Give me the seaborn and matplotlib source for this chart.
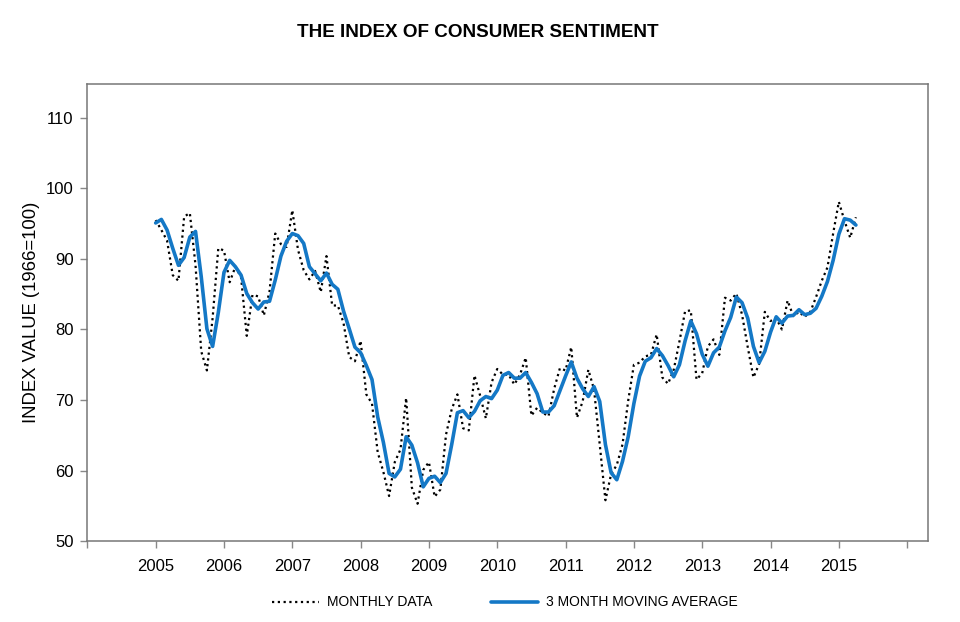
import pandas as pd
import matplotlib.pyplot as plt
import seaborn as sns

# Monthly index values, Jan 2005 - Apr 2015
years = list(range(2005, 2016))
monthly = [
    95.5, 94.1, 92.6, 87.7, 86.9, 96.0, 96.5, 89.1, 76.9, 74.2, 81.6, 91.5,  # 2005
    91.2, 86.7, 88.9, 87.4, 79.1, 84.9, 84.7, 82.0, 85.4, 93.6, 92.1, 91.7,  # 2006
    96.9, 91.3, 88.4, 87.1, 88.3, 85.3, 90.4, 83.4, 83.4, 80.9, 76.1, 75.5,  # 2007
    78.4, 70.8, 69.5, 62.6, 59.8, 56.4, 61.2, 63.0, 70.3, 57.6, 55.3, 60.1,  # 2008
    61.2, 56.3, 57.3, 65.1, 68.7, 70.8, 66.0, 65.7, 73.5, 70.6, 67.4, 72.5,  # 2009
    74.4, 73.6, 73.6, 72.2, 73.6, 76.0, 67.8, 68.9, 68.2, 67.7, 71.6, 74.5,  # 2010
    74.2, 77.5, 67.5, 69.8, 74.3, 71.5, 63.7, 55.8, 59.5, 60.8, 63.7, 69.9,  # 2011
    75.0, 75.3, 76.2, 76.4, 79.3, 73.2, 72.3, 74.3, 78.3, 82.6, 82.7, 72.9,  # 2012
    73.8, 77.6, 78.6, 76.4, 84.5, 84.1, 85.1, 82.1, 77.5, 73.2, 75.1, 82.5,  # 2013
    81.2, 81.6, 80.0, 84.1, 81.9, 82.5, 81.8, 82.5, 84.6, 86.9, 88.8, 93.6,  # 2014
    98.1, 95.4, 93.0, 95.9,                                                  # 2015
]

# 3 month moving average, same months
moving_avg = [
    95.1, 95.6, 94.1, 91.5, 89.1, 90.2, 93.1, 93.9, 87.5, 80.1, 77.6, 82.4,
    88.1, 89.8, 88.9, 87.7, 85.1, 83.8, 82.9, 83.9, 84.0, 87.0, 90.4, 92.5,
    93.6, 93.3, 92.2, 88.9, 87.9, 86.9, 88.0, 86.4, 85.7, 82.6, 80.1, 77.5,
    76.7, 74.9, 72.9, 67.6, 64.0, 59.6, 59.1, 60.2, 64.8, 63.6, 61.1, 57.7,
    58.9, 59.2, 58.3, 59.6, 63.7, 68.2, 68.5, 67.5, 68.4, 69.9, 70.5, 70.2,
    71.4, 73.5, 73.9, 73.1, 73.1, 73.9, 72.5, 70.9, 68.3, 68.3, 69.2, 71.3,
    73.4, 75.4, 73.1, 71.6, 70.5, 71.9, 69.8, 63.7, 59.7, 58.7, 61.3, 64.8,
    69.5, 73.4, 75.5, 76.0, 77.3, 76.3, 74.9, 73.3, 75.0, 78.4, 81.2, 79.4,
    76.5, 74.8, 76.7, 77.5, 79.8, 81.7, 84.6, 83.8, 81.6, 77.6, 75.3, 76.9,
    79.6, 81.8, 80.9, 81.9, 82.0, 82.8, 82.1, 82.3, 83.0, 84.7, 86.8, 89.8,
    93.5, 95.7, 95.5, 94.8,
]

dates = pd.date_range("2005-01-01", periods=len(monthly), freq="MS")
t = dates.year + (dates.month - 1) / 12.0
df = pd.DataFrame({"t": t, "monthly": monthly, "ma": moving_avg})

sns.set_style("white")
plt.rcParams["font.family"] = ["Liberation Sans", "DejaVu Sans"]
plt.rcParams["text.color"] = "black"
plt.rcParams["axes.labelcolor"] = "black"
plt.rcParams["xtick.color"] = "black"
plt.rcParams["ytick.color"] = "black"

fig, ax = plt.subplots(figsize=(9.6, 6.22), dpi=100)
fig.subplots_adjust(left=0.091, right=0.967, top=0.865, bottom=0.13)

sns.lineplot(data=df, x="t", y="monthly", ax=ax, color="black", linestyle=(0, (1, 1.6)),
             linewidth=1.6, label="MONTHLY DATA", legend=False)
sns.lineplot(data=df, x="t", y="ma", ax=ax, color="#1478c6", linewidth=2.6,
             label="3 MONTH MOVING AVERAGE", legend=False)

ax.set_xlim(2004, 2016.31)
ax.set_ylim(50, 114.8)
ax.set_xticks(range(2004, 2017))
ax.set_xticklabels([""] + [str(y) for y in years] + [""])
ax.set_yticks(range(50, 111, 10))
ax.tick_params(axis="both", direction="out", length=5, width=1, color="#888888",
               labelsize=12, labelcolor="black", bottom=True, left=True)
ax.tick_params(axis="x", pad=8)
ax.tick_params(axis="y", pad=5)
for s in ax.spines.values():
    s.set_color("#777777")
    s.set_linewidth(1.1)

ax.set_xlabel("")
ax.set_ylabel("INDEX VALUE (1966=100)", fontsize=13.3, labelpad=4)
fig.suptitle("THE INDEX OF CONSUMER SENTIMENT", x=0.498, y=0.962, fontsize=13.6,
             fontweight="bold", color="black")

handles, labels = ax.get_legend_handles_labels()
fig.legend(handles, labels, loc="lower center", ncol=2, frameon=False, fontsize=10,
           bbox_to_anchor=(0.526, 0.0), handlelength=3.4, handletextpad=0.6,
           columnspacing=4.2)

plt.savefig("out.png", dpi=100)
